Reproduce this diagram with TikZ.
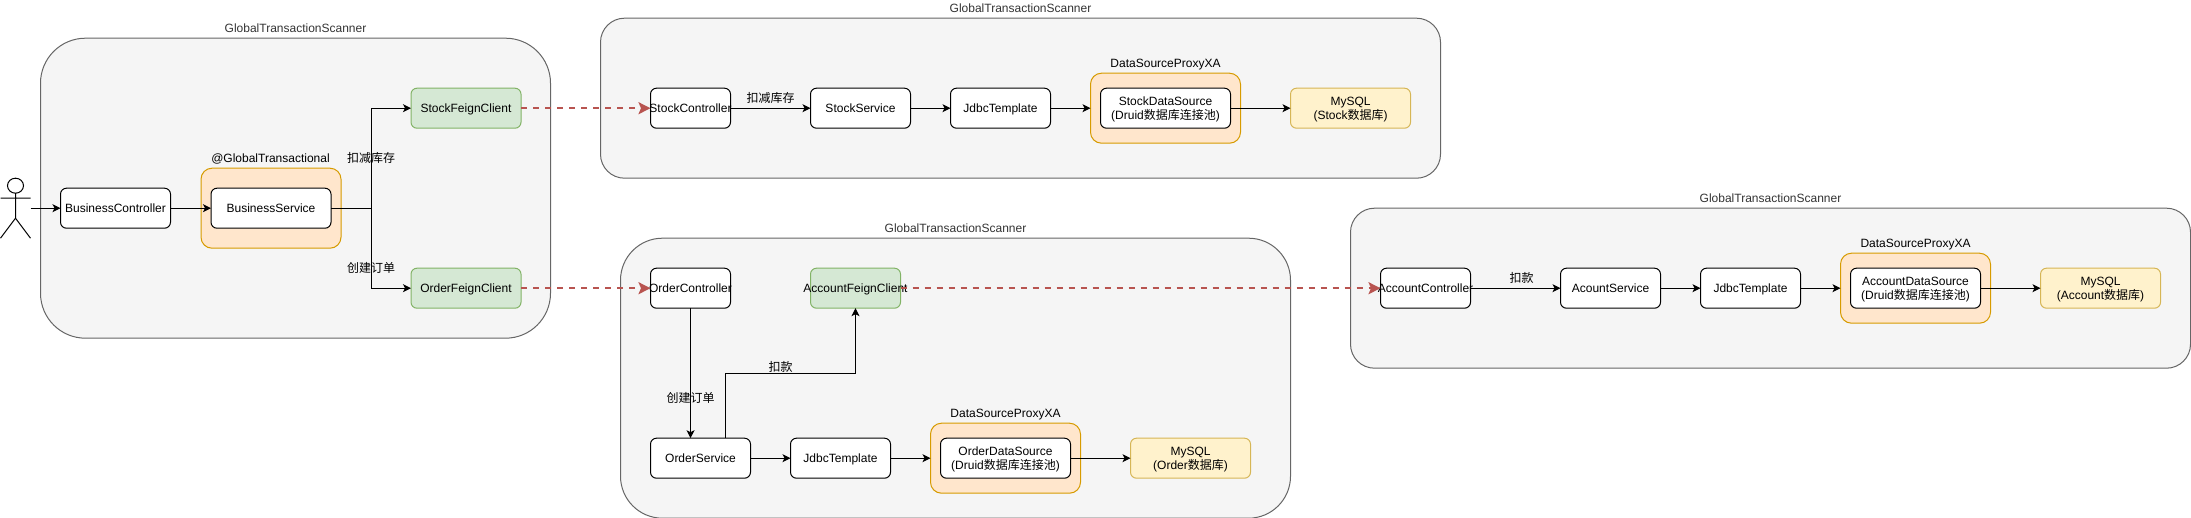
\documentclass[tikz,border=0pt]{standalone}
\usepackage{fontspec}
\setmainfont{Liberation Sans}
\newfontfamily\cjkf{Noto Sans CJK SC}
\usetikzlibrary{arrows.meta}
\newcommand{\zh}[1]{{\cjkf #1}}
\newcommand{\tl}[1]{\raisebox{0pt}[8.4pt][0pt]{#1}}
\newcommand{\ov}[1]{\tl{\makebox[0pt][c]{#1}}}
\tikzset{
  boxbase/.style={rectangle,inner sep=0pt,outer sep=0pt,line width=1pt,align=center,font=\fontsize{12}{14.5}\selectfont},
  region/.style={boxbase,draw=black!60,fill=black!4},
  proxy/.style={boxbase,draw=proxyline,fill=proxyfill,rounded corners=11pt},
  plain/.style={boxbase,draw=black,fill=white,rounded corners=6pt,minimum height=40},
  feign/.style={boxbase,draw=feignline,fill=feignfill,rounded corners=6pt,minimum height=40},
  store/.style={boxbase,draw=storeline,fill=storefill,rounded corners=6pt,minimum height=40},
  caption/.style={inner sep=0pt,outer sep=0pt,align=center,font=\fontsize{12}{14.5}\selectfont},
  greycap/.style={caption,text=black!80},
  call/.style={line width=1pt,draw=black,-{Stealth[length=8pt,width=8pt,inset=2pt]}},
  remote/.style={line width=2pt,draw=remoteline,dash pattern=on 6pt off 6pt,-{Stealth[length=12pt,width=12pt,inset=2.5pt,fill=remoteline]}},
  actorline/.style={line width=1pt,draw=black}
}
\definecolor{proxyline}{HTML}{D79B00}
\definecolor{proxyfill}{HTML}{FFE6CC}
\definecolor{feignline}{HTML}{82B366}
\definecolor{feignfill}{HTML}{D5E8D4}
\definecolor{storeline}{HTML}{D6B656}
\definecolor{storefill}{HTML}{FFF2CC}
\definecolor{remoteline}{HTML}{B85450}
\begin{document}
\begin{tikzpicture}[x=1pt,y=-1pt]
\useasboundingbox (0,-0.7) rectangle (2191,517.3);
% regions
\node[region,rounded corners=45pt,minimum width=510,minimum height=300] (r1) at (295.5,187.5) {};
\node[region,rounded corners=24pt,minimum width=840,minimum height=160] (r2) at (1020.5,97.5) {};
\node[region,rounded corners=42pt,minimum width=670,minimum height=280] (r3) at (955.5,377.5) {};
\node[region,rounded corners=24pt,minimum width=840,minimum height=160] (r4) at (1770.5,287.5) {};
\node[greycap] (r1t) at (295.5,27.5) {\tl{GlobalTransactionScanner}};
\node[greycap] (r2t) at (1020.5,7.5) {\tl{GlobalTransactionScanner}};
\node[greycap] (r3t) at (955.5,227.5) {\tl{GlobalTransactionScanner}};
\node[greycap] (r4t) at (1770.5,197.5) {\tl{GlobalTransactionScanner}};
% proxies
\node[proxy,minimum width=140,minimum height=80] (p1) at (271,207.5) {};
\node[proxy,minimum width=150,minimum height=70] (p2) at (1165.5,107.5) {};
\node[proxy,minimum width=150,minimum height=70] (p3) at (1005.5,457.5) {};
\node[proxy,minimum width=150,minimum height=70] (p4) at (1915.5,287.5) {};
\node[caption] (p1t) at (270.5,157.5) {\tl{@GlobalTransactional}};
\node[caption] (p2t) at (1165.5,62.5) {\tl{DataSourceProxyXA}};
\node[caption] (p3t) at (1005.5,412.5) {\tl{DataSourceProxyXA}};
\node[caption] (p4t) at (1915.5,242.5) {\tl{DataSourceProxyXA}};
% actor
\draw[actorline] (15.5,185) circle[x radius=8,y radius=7.5];
\draw[actorline] (15.5,192.5) -- (15.5,217.5) (0.5,197.5) -- (30.5,197.5) (0.5,237.5) -- (15.5,217.5) -- (30.5,237.5);
\coordinate (actor) at (30.5,207.5);
% business
\node[plain,minimum width=110] (bc) at (115.5,207.5) {\tl{BusinessController}};
\node[plain,minimum width=120] (bs) at (271,207.5) {\tl{BusinessService}};
\node[feign,minimum width=110] (sf) at (466,107.5) {\tl{StockFeignClient}};
\node[feign,minimum width=110] (of) at (466,287.5) {\tl{OrderFeignClient}};
% stock
\node[plain,minimum width=80] (sc) at (690.5,107.5) {\ov{StockController}};
\node[plain,minimum width=100] (ss) at (860.5,107.5) {\tl{StockService}};
\node[plain,minimum width=100] (sj) at (1000.5,107.5) {\tl{JdbcTemplate}};
\node[plain,minimum width=130] (sd) at (1165.5,107.5) {\tl{StockDataSource}\\\tl{(Druid\zh{数据库连接池})}};
\node[store,minimum width=120] (sm) at (1350.5,107.5) {\tl{MySQL}\\\tl{(Stock\zh{数据库})}};
% order
\node[plain,minimum width=80] (oc) at (690.5,287.5) {\ov{OrderController}};
\node[feign,minimum width=90] (af) at (855.5,287.5) {\ov{AccountFeignClient}};
\node[plain,minimum width=100] (os) at (700.5,457.5) {\tl{OrderService}};
\node[plain,minimum width=100] (oj) at (840.5,457.5) {\tl{JdbcTemplate}};
\node[plain,minimum width=130] (od) at (1005.5,457.5) {\tl{OrderDataSource}\\\tl{(Druid\zh{数据库连接池})}};
\node[store,minimum width=120] (om) at (1190.5,457.5) {\tl{MySQL}\\\tl{(Order\zh{数据库})}};
% account
\node[plain,minimum width=90] (ac) at (1425.5,287.5) {\ov{AccountController}};
\node[plain,minimum width=100] (as) at (1610.5,287.5) {\tl{AcountService}};
\node[plain,minimum width=100] (aj) at (1750.5,287.5) {\tl{JdbcTemplate}};
\node[plain,minimum width=130] (ad) at (1915.5,287.5) {\tl{AccountDataSource}\\\tl{(Druid\zh{数据库连接池})}};
\node[store,minimum width=120] (am) at (2100.5,287.5) {\tl{MySQL}\\\tl{(Account\zh{数据库})}};
% connectors
\coordinate (j) at (371,207.5);
\coordinate (osup) at (725.5,437.5);
\coordinate (k) at (725.5,372.5);
\draw[call] (actor) -- (bc.west);
\draw[call] (bc.east) -- (bs.west);
\draw[call] (bs.east) -- (j) |- (sf.west);
\draw[call] (j) |- (of.west);
\draw[call] (sc.east) -- (ss.west);
\draw[call] (ss.east) -- (sj.west);
\draw[call] (sj.east) -- (p2.west);
\draw[call] (sd.east) -- (sm.west);
\draw[call] (oc.south) -- (oc.south |- os.north);
\draw[call] (osup) -- (k) -| (af.south);
\draw[call] (os.east) -- (oj.west);
\draw[call] (oj.east) -- (p3.west);
\draw[call] (od.east) -- (om.west);
\draw[call] (ac.east) -- (as.west);
\draw[call] (as.east) -- (aj.west);
\draw[call] (aj.east) -- (p4.west);
\draw[call] (ad.east) -- (am.west);
\draw[remote] (sf.east) -- (sc.west);
\draw[remote] (of.east) -- (oc.west);
\draw[remote] (af.east) -- (ac.west);
% edge labels
\node[caption] (l1) at (371,157.5) {\tl{\zh{扣减库存}}};
\node[caption] (l2) at (371,267.5) {\tl{\zh{创建订单}}};
\node[caption] (l3) at (770.5,97.5) {\tl{\zh{扣减库存}}};
\node[caption] (l4) at (690.5,397.5) {\tl{\zh{创建订单}}};
\node[caption] (l5) at (780.5,367) {\tl{\zh{扣款}}};
\node[caption] (l6) at (1521.5,277.5) {\tl{\zh{扣款}}};
\end{tikzpicture}
\end{document}
